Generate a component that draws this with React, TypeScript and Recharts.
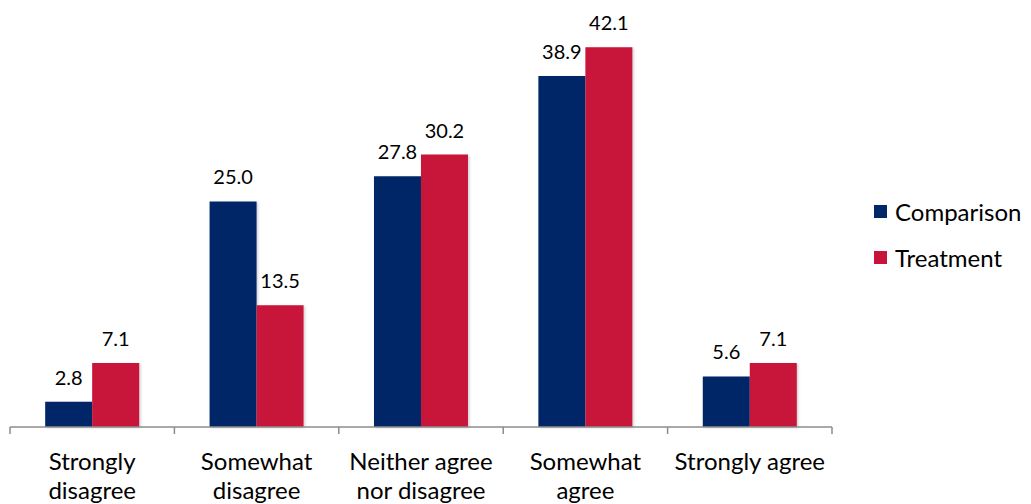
import { BarChart, Bar, XAxis, YAxis, LabelList, Legend } from "recharts";

// categories and values
const categories = [
  "Strongly disagree",
  "Somewhat disagree",
  "Neither agree nor disagree",
  "Somewhat agree",
  "Strongly agree",
];
const tickLines: string[][] = [
  ["Strongly", "disagree"],
  ["Somewhat", "disagree"],
  ["Neither agree", "nor disagree"],
  ["Somewhat", "agree"],
  ["Strongly agree"],
];
const comparison = [2.8, 25.0, 27.8, 38.9, 5.6];
const treatment = [7.1, 13.5, 30.2, 42.1, 7.1];

const NAVY = "#002868";
const RED = "#C8133B";
const FONT = "Lato, 'Open Sans', sans-serif";

const data = categories.map((c, i) => ({
  name: c,
  comparison: comparison[i],
  treatment: treatment[i],
}));

function CategoryTick({ x, y, payload, index }: any) {
  const half = payload?.offset ?? 82.2;
  const i = payload?.index ?? index;
  const lines = tickLines[i] ?? [String(payload.value)];
  const last = i === categories.length - 1;
  return (
    <g>
      <line x1={x - half} x2={x - half} y1={y - 8} y2={y - 1} stroke="#8c8c8c" strokeWidth={1.5} />
      {last && (
        <line x1={x + half} x2={x + half} y1={y - 8} y2={y - 1} stroke="#8c8c8c" strokeWidth={1.5} />
      )}
      <text x={x} y={y + 35} textAnchor="middle" fill="#000" fontSize={24} fontFamily={FONT}>
        {lines.map((l, k) => (
          <tspan key={k} x={x} dy={k === 0 ? 0 : 29}>
            {l}
          </tspan>
        ))}
      </text>
    </g>
  );
}

function LegendBox() {
  const items = [
    { name: "Comparison", color: NAVY },
    { name: "Treatment", color: RED },
  ];
  return (
    <div style={{ fontFamily: FONT, fontSize: 24, color: "#000" }}>
      {items.map((it) => (
        <div key={it.name} style={{ display: "flex", alignItems: "center", height: 46 }}>
          <div style={{ width: 13, height: 13, background: it.color, marginRight: 8 }} />
          <span>{it.name}</span>
        </div>
      ))}
    </div>
  );
}

export default function App() {
  return (
    <div style={{ width: 1015, height: 496, background: "#fff" }}>
      <BarChart
        width={1015}
        height={496}
        data={data}
        margin={{ top: 13, right: 191, bottom: 0, left: 2 }}
        barCategoryGap="21.4%"
        barGap={0}
      >
        <defs>
          <filter id="barShadow" x="-10%" y="-10%" width="130%" height="130%">
            <feDropShadow dx="1.5" dy="1" stdDeviation="1.2" floodColor="#000" floodOpacity="0.18" />
          </filter>
        </defs>
        <XAxis
          dataKey="name"
          height={77}
          interval={0}
          tickLine={false}
          axisLine={{ stroke: "#8c8c8c", strokeWidth: 1.5 }}
          tick={<CategoryTick />}
        />
        <YAxis hide domain={[0, 45]} />
        <Legend
          layout="horizontal"
          verticalAlign="middle"
          align="center"
          wrapperStyle={{ left: 866, top: 180, width: 150 }}
          content={<LegendBox />}
        />
        <Bar dataKey="comparison" name="Comparison" fill={NAVY} isAnimationActive={false} style={{ filter: "url(#barShadow)" }}>
          <LabelList
            dataKey="comparison"
            position="top"
            offset={17}
            fill="#000"
            fontSize={20}
            fontFamily={FONT}
            formatter={(v: any) => Number(v).toFixed(1)}
          />
        </Bar>
        <Bar dataKey="treatment" name="Treatment" fill={RED} isAnimationActive={false} style={{ filter: "url(#barShadow)" }}>
          <LabelList
            dataKey="treatment"
            position="top"
            offset={17}
            fill="#000"
            fontSize={20}
            fontFamily={FONT}
            formatter={(v: any) => Number(v).toFixed(1)}
          />
        </Bar>
      </BarChart>
    </div>
  );
}
